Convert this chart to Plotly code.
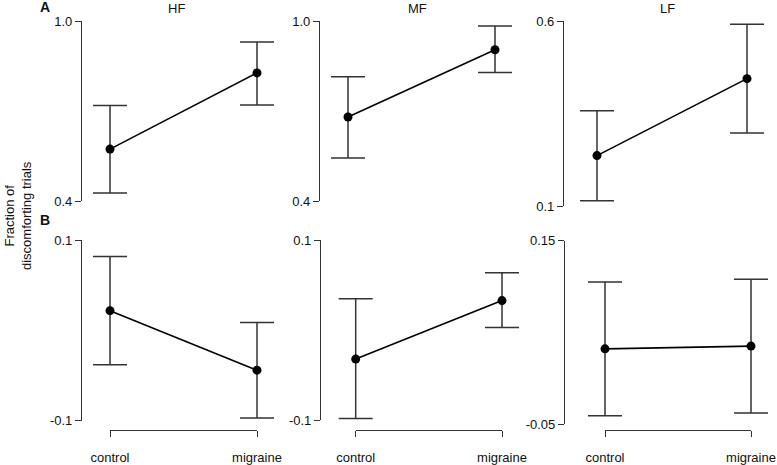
import plotly.graph_objects as go

W, H = 777, 465

groups = ["control", "migraine"]
panel_titles = ["HF", "MF", "LF"]

# Row A: fraction of discomforting trials
a_mean = {"HF": [0.573, 0.827], "MF": [0.680, 0.904], "LF": [0.237, 0.445]}
a_upper = {"HF": [0.718, 0.930], "MF": [0.814, 0.983], "LF": [0.358, 0.592]}
a_lower = {"HF": [0.427, 0.720], "MF": [0.543, 0.828], "LF": [0.115, 0.298]}
a_ticks = {"HF": [0.4, 1.0], "MF": [0.4, 1.0], "LF": [0.1, 0.6]}
a_ticktext = {"HF": ["0.4", "1.0"], "MF": ["0.4", "1.0"], "LF": ["0.1", "0.6"]}

# Row B
b_mean = {"HF": [0.022, -0.044], "MF": [-0.032, 0.033], "LF": [0.032, 0.035]}
b_upper = {"HF": [0.082, 0.009], "MF": [0.035, 0.064], "LF": [0.105, 0.108]}
b_lower = {"HF": [-0.038, -0.097], "MF": [-0.098, 0.003], "LF": [-0.041, -0.038]}
b_ticks = {"HF": [-0.1, 0.1], "MF": [-0.1, 0.1], "LF": [-0.05, 0.15]}
b_ticktext = {"HF": ["-0.1", "0.1"], "MF": ["-0.1", "0.1"], "LF": ["-0.05", "0.15"]}

# layout geometry in pixels
layout_px = {
    ("A", "HF"): dict(ytop=21, ybot=201, axx=81, x0=110, x1=257),
    ("A", "MF"): dict(ytop=21, ybot=201, axx=319, x0=348, x1=495),
    ("A", "LF"): dict(ytop=21.3, ybot=206.3, axx=563, x0=597, x1=747),
    ("B", "HF"): dict(ytop=240.3, ybot=420.7, axx=81, x0=110, x1=257),
    ("B", "MF"): dict(ytop=240.3, ybot=420.3, axx=320, x0=355.7, x1=502),
    ("B", "LF"): dict(ytop=240.7, ybot=424, axx=564, x0=605, x1=751),
}
XAXIS_LINE_Y = 430
PAD = 24


def px_x(p):
    return p / W


def px_y(p):
    return 1 - p / H


fig = go.Figure()
AX = "#333333"
FONT = "Liberation Sans, Arial, sans-serif"
TICKFONT = dict(family=FONT, size=13, color="#111")

idx = 0
bracket_idx = 6
for row, mean_d, up_d, lo_d, tick_d, tt_d in [
        ("A", a_mean, a_upper, a_lower, a_ticks, a_ticktext),
        ("B", b_mean, b_upper, b_lower, b_ticks, b_ticktext)]:
    for name in panel_titles:
        idx += 1
        g = layout_px[(row, name)]
        xa = "x" if idx == 1 else f"x{idx}"
        ya = "y" if idx == 1 else f"y{idx}"
        m = mean_d[name]
        up = [u - v for u, v in zip(up_d[name], m)]
        dn = [v - l for v, l in zip(m, lo_d[name])]
        fig.add_trace(go.Scatter(
            x=groups, y=m, xaxis=xa, yaxis=ya, mode="lines+markers",
            line=dict(color="black", width=1.6),
            marker=dict(color="black", size=9),
            error_y=dict(type="data", symmetric=False, array=up, arrayminus=dn,
                         color=AX, thickness=1.5, width=17),
            cliponaxis=False, showlegend=False, hoverinfo="skip"))
        lo, hi = tick_d[name]
        span = g["x1"] - g["x0"]
        xkey = "xaxis" if idx == 1 else f"xaxis{idx}"
        ykey = "yaxis" if idx == 1 else f"yaxis{idx}"
        fig.layout[xkey] = dict(
            domain=[px_x(g["x0"] - PAD), px_x(g["x1"] + PAD)],
            range=[-PAD / span, 1 + PAD / span],
            type="category", categoryorder="array", categoryarray=groups,
            showgrid=False, zeroline=False, anchor="free", position=px_y(g["ybot"]),
            showline=False, ticks="", showticklabels=False, automargin=False)
        fig.layout[ykey] = dict(
            domain=[px_y(g["ybot"]), px_y(g["ytop"])], range=[lo, hi],
            anchor="free", position=px_x(g["axx"]), side="left",
            tickvals=[lo, hi], ticktext=tt_d[name],
            showline=True, linecolor=AX, linewidth=1.2, ticks="outside",
            ticklen=6, tickwidth=1.2, tickcolor=AX, showgrid=False, zeroline=False,
            tickfont=TICKFONT, automargin=False)
        if row == "B":
            # category axis bracket from control to migraine
            bracket_idx += 1
            bxa = f"x{bracket_idx}"
            fig.add_trace(go.Scatter(x=groups, y=[None, None], xaxis=bxa, yaxis=ya,
                                     mode="markers", showlegend=False, hoverinfo="skip"))
            fig.layout[f"xaxis{bracket_idx}"] = dict(
                domain=[px_x(g["x0"]), px_x(g["x1"])], range=[0, 1],
                type="category", categoryorder="array", categoryarray=groups,
                anchor="free", position=px_y(XAXIS_LINE_Y),
                showline=True, linecolor=AX, linewidth=1.2, ticks="outside", ticklen=6,
                tickwidth=1.2, tickcolor=AX, showticklabels=True, ticklabelstandoff=9,
                showgrid=False, zeroline=False, tickfont=TICKFONT, automargin=False)

annotations = []
title_x = {"HF": 176, "MF": 417, "LF": 667}
for name in panel_titles:
    annotations.append(dict(text=name, x=px_x(title_x[name]), y=px_y(8), xref="paper",
                            yref="paper", showarrow=False, xanchor="center", yanchor="middle",
                            font=dict(family=FONT, size=13, color="#111")))
for lab, yy in [("A", 7), ("B", 220)]:
    annotations.append(dict(text=f"<b>{lab}</b>", x=px_x(45), y=px_y(yy), xref="paper",
                            yref="paper", showarrow=False, xanchor="center", yanchor="middle",
                            font=dict(family=FONT, size=14, color="#111")))
annotations.append(dict(text="Fraction of<br>discomforting trials", x=px_x(18), y=px_y(216),
                        xref="paper", yref="paper", showarrow=False, textangle=-90,
                        xanchor="center", yanchor="middle",
                        font=dict(family=FONT, size=13, color="#111")))

fig.update_layout(template="none", width=W, height=H, autosize=False,
                  margin=dict(l=0, r=0, t=0, b=0, pad=0),
                  paper_bgcolor="white", plot_bgcolor="rgba(0,0,0,0)",
                  showlegend=False, annotations=annotations)

fig.write_html("out.html", config={"displayModeBar": False},
               post_script="document.body.style.margin='0';document.body.style.padding='0';")
